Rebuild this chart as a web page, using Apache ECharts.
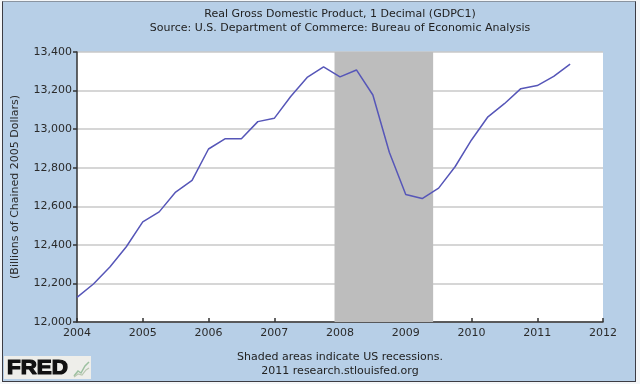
<!DOCTYPE html>
<html>
<head>
<meta charset="utf-8">
<script src="https://cdn.jsdelivr.net/npm/echarts@6/dist/echarts.min.js"></script>
<style>
  html, body { margin: 0; padding: 0; background: #f4f6f8; }
  #frame { position: absolute; left: 2px; top: 1px; width: 634px; height: 381px; box-sizing: border-box;
           border: 1px solid #3c3c44; border-top-color: #8a94a0; background: #b7cfe7; }
  #chart { position: absolute; left: 0; top: 0; width: 640px; height: 384px; }
</style>
</head>
<body>
<div id="frame"></div>
<div id="chart"></div>
<script>
// ---- data ----
const quarters = [
  "2004Q1","2004Q2","2004Q3","2004Q4",
  "2005Q1","2005Q2","2005Q3","2005Q4",
  "2006Q1","2006Q2","2006Q3","2006Q4",
  "2007Q1","2007Q2","2007Q3","2007Q4",
  "2008Q1","2008Q2","2008Q3","2008Q4",
  "2009Q1","2009Q2","2009Q3","2009Q4",
  "2010Q1","2010Q2","2010Q3","2010Q4",
  "2011Q1","2011Q2","2011Q3"
];
const gdp = [
  12128, 12197, 12285, 12390,
  12519, 12571, 12674, 12734,
  12897, 12950, 12950, 13039,
  13056, 13169, 13268, 13323,
  13271, 13307, 13177, 12880,
  12661, 12640, 12694, 12805,
  12944, 13064, 13132, 13210,
  13226, 13274, 13337
];
const recession = ["2007-12", "2009-06"];
const xTicks = [2004, 2005, 2006, 2007, 2008, 2009, 2010, 2011, 2012];
const yTicks = [12000, 12200, 12400, 12600, 12800, 13000, 13200, 13400];
const titleText = "Real Gross Domestic Product, 1 Decimal (GDPC1)";
const subtitleText = "Source: U.S. Department of Commerce: Bureau of Economic Analysis";
const yAxisName = "(Billions of Chained 2005 Dollars)";
const noteLines = ["Shaded areas indicate US recessions.", "2011 research.stlouisfed.org"];

// ---- helpers ----
function quarterToYear(q) { return Number(q.slice(0, 4)) + (Number(q.slice(5)) - 1) / 4; }
function monthToYear(m) { const p = m.split("-"); return Number(p[0]) + (Number(p[1]) - 1) / 12; }

const seriesData = quarters.map((q, i) => [quarterToYear(q), gdp[i]]);
const FONT = "DejaVu Sans";

const chart = echarts.init(document.getElementById("chart"), null, { renderer: "canvas" });
chart.setOption({
  backgroundColor: "transparent",
  animation: false,
  grid: { left: 77, right: 37, top: 52, bottom: 62, containLabel: false },
  xAxis: {
    type: "value",
    min: xTicks[0], max: xTicks[xTicks.length - 1], interval: 1,
    axisLine: { show: true, lineStyle: { color: "#333", width: 1.5 } },
    axisTick: { show: true, inside: true, length: 4, lineStyle: { color: "#333", width: 1.5 } },
    axisLabel: { color: "#2a2a2a", fontFamily: FONT, fontSize: 11, margin: 6, formatter: v => String(v) },
    splitLine: { show: false }
  },
  yAxis: {
    type: "value",
    min: yTicks[0], max: yTicks[yTicks.length - 1], interval: 200,
    name: yAxisName, nameLocation: "middle", nameGap: 56,
    nameTextStyle: { color: "#2a2a2a", fontFamily: FONT, fontSize: 11 },
    axisLine: { show: true, lineStyle: { color: "#333", width: 1.5 } },
    axisTick: { show: true, inside: false, length: 4, lineStyle: { color: "#333", width: 1.5 } },
    axisLabel: { color: "#2a2a2a", fontFamily: FONT, fontSize: 11, margin: 5,
                 formatter: v => v.toLocaleString("en-US") },
    splitLine: { show: true, lineStyle: { color: "#c9c9c9", width: 1.5 } }
  },
  graphic: [
    { type: "rect", z: -10, shape: { x: 77, y: 52, width: 526, height: 270 }, style: { fill: "#ffffff" } },
    { type: "text", x: 340, y: 14, style: { text: titleText, fill: "#222", font: "11px '" + FONT + "'", textAlign: "center", textVerticalAlign: "middle" } },
    { type: "text", x: 340, y: 28, style: { text: subtitleText, fill: "#222", font: "11px '" + FONT + "'", textAlign: "center", textVerticalAlign: "middle" } },
    { type: "text", x: 340, y: 357, style: { text: noteLines[0], fill: "#222", font: "11px '" + FONT + "'", textAlign: "center", textVerticalAlign: "middle" } },
    { type: "text", x: 340, y: 371, style: { text: noteLines[1], fill: "#222", font: "11px '" + FONT + "'", textAlign: "center", textVerticalAlign: "middle" } },
    { type: "rect", shape: { x: 4, y: 356, width: 87, height: 23 }, style: { fill: "#eeeeea" } },
    { type: "text", x: 7, y: 368, scaleX: 1.12, style: { text: "FRED", fill: "#111", stroke: "#111", lineWidth: 1.2, font: "bold 20px 'Liberation Sans'", textVerticalAlign: "middle" } },
    { type: "polyline", shape: { points: [[74, 376], [78, 371], [81, 373], [85, 366], [89, 362]] }, style: { stroke: "#9cc0a0", lineWidth: 1.5, fill: null } },
    { type: "polyline", shape: { points: [[74, 377], [78, 374], [82, 375], [86, 370], [89, 368]] }, style: { stroke: "#b9c6b0", lineWidth: 1.2, fill: null } }
  ],
  series: [{
    type: "line",
    data: seriesData,
    showSymbol: false,
    lineStyle: { color: "#5656b8", width: 1.5 },
    itemStyle: { color: "#5656b8" },
    markArea: {
      silent: true,
      itemStyle: { color: "#bdbdbd", opacity: 1 },
      data: [[{ xAxis: monthToYear(recession[0]) }, { xAxis: monthToYear(recession[1]) }]]
    }
  }]
});
</script>
</body>
</html>
